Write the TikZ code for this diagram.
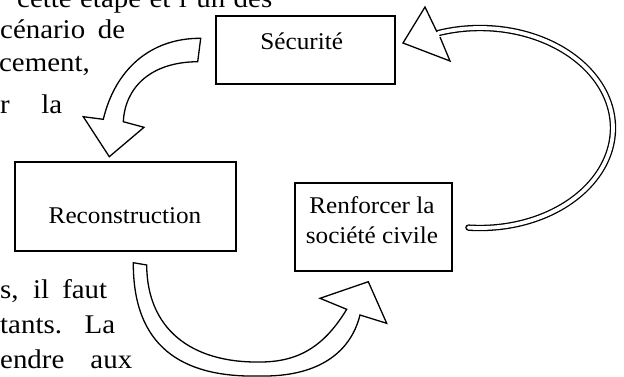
\documentclass[tikz,border=0pt]{standalone}
\usepackage{fontspec}
\setmainfont{Liberation Serif}
\newfontfamily\bodyfont[FakeStretch=1.07]{Liberation Serif}
\newfontfamily\boxfont[FakeStretch=1.05]{Liberation Serif}
\begin{document}
\begin{tikzpicture}[x=1pt,y=-1pt,
  box/.style={draw,line width=1.5pt,inner sep=0pt},
  boxtext/.style={inner sep=0pt,anchor=base,font=\boxfont\fontsize{24}{30}\selectfont},
  bodytext/.style={inner sep=0pt,anchor=base west,font=\bodyfont\fontsize{27}{32}\selectfont},
  blockarrow/.style={draw=black,fill=white,line width=1.3pt,line join=miter},
  bandout/.style={line width=6.4pt,line cap=round},
  bandin/.style={white,line width=3.8pt,line cap=round}]
\useasboundingbox (0,0) rectangle (624,376);
\fill[white] (0,0) rectangle (624,376);

% background text fragments
\node[bodytext] (t0) at (17,7) {\makebox[255pt][s]{cette étape et l’un des}};
\node[bodytext] (t1) at (0,38) {\makebox[125pt][s]{cénario de}};
\node[bodytext,anchor=base east] (t2) at (90,71) {cement,};
\node[bodytext] (t3) at (0,113) {\makebox[62pt][s]{r la}};
\node[bodytext] (t5) at (0,298) {\makebox[107pt][s]{s, il faut}};
\node[bodytext] (t6) at (0,333) {\makebox[115pt][s]{tants. La}};
\node[bodytext] (t7) at (0,368) {\makebox[132pt][s]{endre aux}};

% boxes
\node[box,minimum width=179pt,minimum height=68pt] (sec) at (305.5,50) {};
\node[box,minimum width=221pt,minimum height=89pt] (rec) at (125.5,206.5) {};
\node[box,minimum width=157pt,minimum height=88pt] (ren) at (373.5,227) {};
\node[boxtext] (sectext) at (301.7,49) {Sécurité};
\node[boxtext] (rectext) at (125,223) {Reconstruction};
\node[boxtext] (rentext1) at (372,213) {Renforcer la};
\node[boxtext] (rentext2) at (372,243) {société civile};

% arrow from Sécurité to Reconstruction
\path[blockarrow] (200.7,38.3) .. controls (150,38) and (115,70) .. (103.3,119.3)
  -- (83.3,116.7) -- (109.3,156.7) -- (144,127.3) -- (123.3,121.7)
  .. controls (125,88) and (150,62) .. (197.7,61.7) -- cycle;

% arrow from Reconstruction to Renforcer
\path[blockarrow] (133.3,262.7) .. controls (133,345) and (180,378) .. (260,376)
  .. controls (315,377) and (350,355) .. (360,315)
  -- (386.7,323.3) -- (368.3,281.7) -- (320,298.3) -- (346.7,309.3)
  .. controls (325,345) and (300,362) .. (260,362)
  .. controls (190,363) and (147,328) .. (146.7,265) -- cycle;

% band arrow from Renforcer to Sécurité
\draw[bandout] plot[smooth,domain=251.6:455,samples=90] ({480+133*cos(\x)},{128+100*sin(\x)});
\draw[bandin] plot[smooth,domain=251.6:455,samples=90] ({480+133*cos(\x)},{128+100*sin(\x)});
\path[blockarrow] (437,32) -- (425,7) -- (403,43) -- (450,61) -- (440,37);
\end{tikzpicture}
\end{document}
